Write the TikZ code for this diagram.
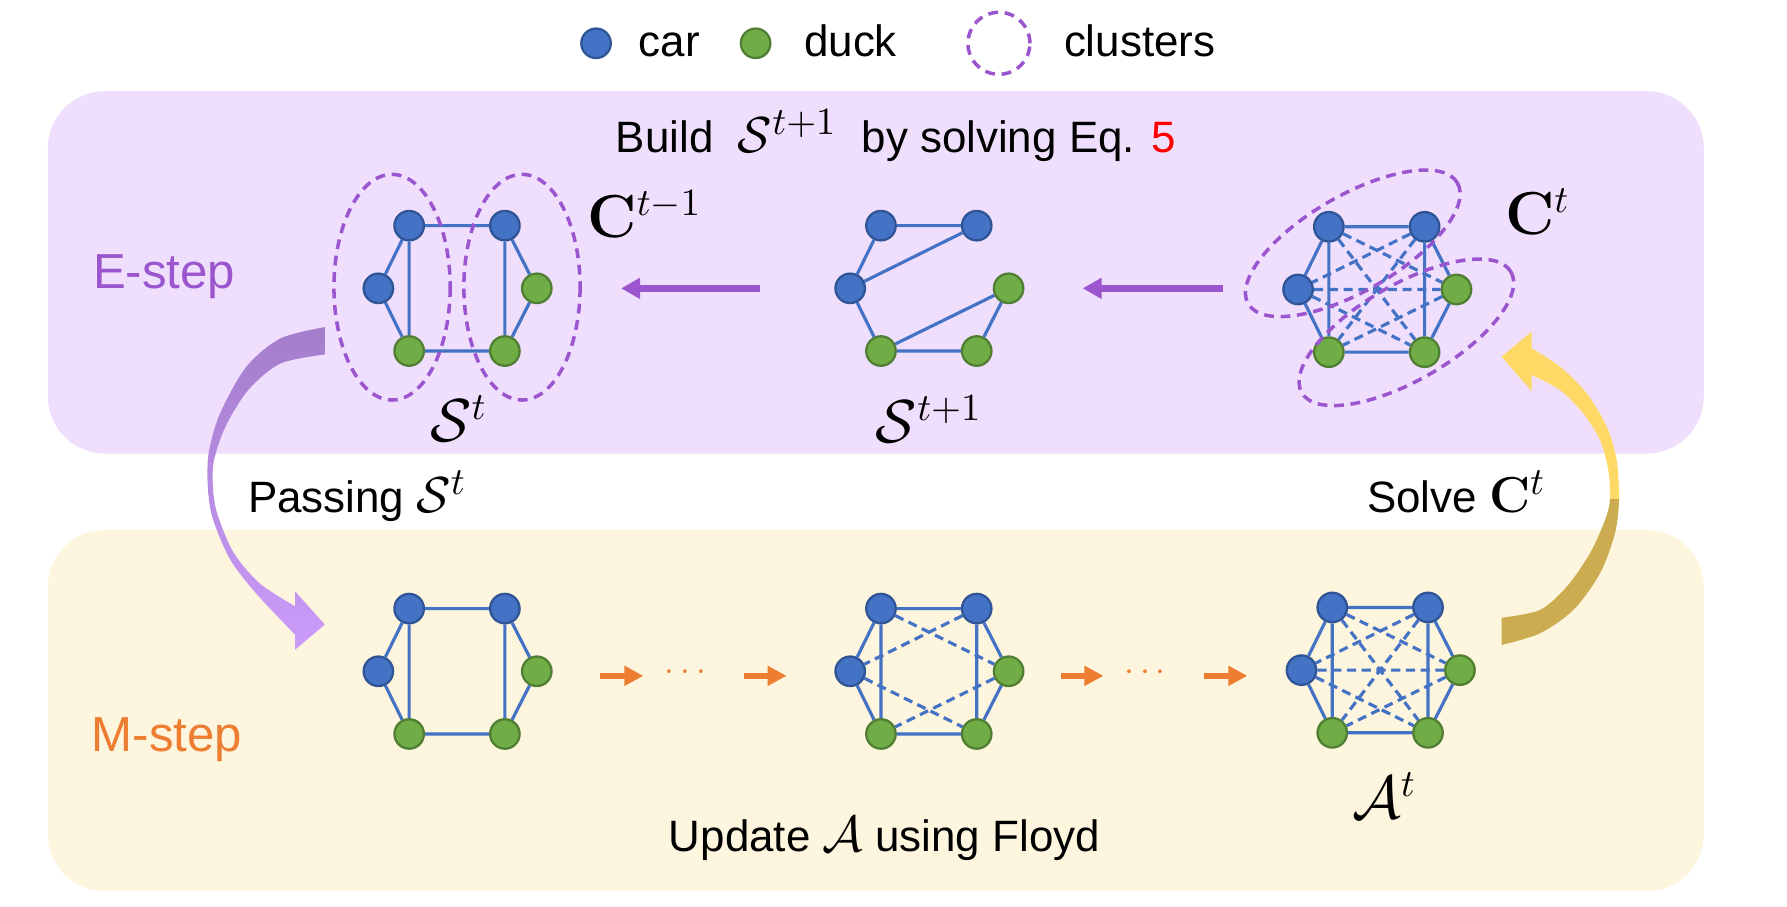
\documentclass[tikz,border=0pt]{standalone}
\usepackage[no-math]{fontspec}
\setmainfont{Liberation Sans}
\usepackage{amsmath}
\usetikzlibrary{arrows.meta}

\definecolor{carblue}{HTML}{4472C4}
\definecolor{carline}{HTML}{2F5597}
\definecolor{duckgreen}{HTML}{70AD47}
\definecolor{duckline}{HTML}{507E32}
\definecolor{epurple}{HTML}{9B55CE}
\definecolor{morange}{HTML}{ED7D31}
\definecolor{epanel}{HTML}{EFDFFD}
\definecolor{mpanel}{HTML}{FDF5DE}
\definecolor{passtop}{HTML}{A47DCB}
\definecolor{passbot}{HTML}{CB9BFA}
\definecolor{solvetop}{HTML}{FFD966}
\definecolor{solvebot}{HTML}{CCAC50}

% inline maths a little larger than the text
\newcommand{\inmath}[1]{{\fontsize{15.5}{18}\selectfont$#1$}}

\newcommand{\solvearrow}{plot[smooth] coordinates {(1317.6,565.9) (1351.2,555.7) (1380.5,535.2) (1403.9,503.1) (1417,468) (1420.6,438.7) (1418.5,403.6) (1409.8,374.4) (1392.2,345.1) (1368.8,321.7) (1343.9,305.6)} -- (1343.9,291) -- (1317.6,313) -- (1343.9,343.1) -- plot[smooth] coordinates {(1343.9,329) (1368.8,342.2) (1389.2,362.7) (1403.9,386.1) (1411.2,412.4) (1412.6,438.7) (1408.3,456.3) (1395.1,485.5) (1374.7,514.8) (1351.2,535.2) (1317.6,542)} -- cycle}

\begin{document}
\begin{tikzpicture}[x=0.114mm, y=-0.114mm,
  car/.style={circle, draw=carline, fill=carblue, line width=0.65pt, minimum size=2.95mm, inner sep=0pt},
  duck/.style={circle, draw=duckline, fill=duckgreen, line width=0.65pt, minimum size=2.95mm, inner sep=0pt},
  link/.style={draw=carblue, line width=0.9pt},
  dlink/.style={link, dash pattern=on 2.6pt off 1.6pt},
  clusterline/.style={draw=epurple, line width=1pt, dash pattern=on 2.8pt off 1.9pt},
  earrow/.style={-{Triangle[length=1.9mm, width=2mm]}, color=epurple, line width=1.9pt},
  marrow/.style={-{Triangle[length=1.9mm, width=1.9mm]}, color=morange, line width=1.7pt},
  txt/.style={inner sep=0pt, font=\fontsize{12.5}{15}\selectfont},
  mtxt/.style={inner sep=0pt, font=\fontsize{16}{19}\selectfont}]

  \useasboundingbox (0,0) rectangle (1568,795);

  % Panels
  \fill[epanel, rounded corners=5.7mm] (42,80) rectangle (1495,398);
  \fill[mpanel, rounded corners=5.7mm] (42,465) rectangle (1495,782);

  % Legend
  \node[car] (L1) at (523,38) {};
  \node[txt, anchor=base west] (L1t) at (560,50) {car};
  \node[duck] (L2) at (663,38) {};
  \node[txt, anchor=base west] (L2t) at (705,50) {duck};
  \node[clusterline, circle, minimum size=6.2mm, inner sep=0pt] (L3) at (876.5,38) {};
  \node[txt, anchor=base west] (L3t) at (933,50) {clusters};

  % Step labels
  \node[txt, font=\fontsize{14}{17}\selectfont, text=epurple, anchor=base west] (E) at (81,253) {E-step};
  \node[txt, font=\fontsize{14}{17}\selectfont, text=morange, anchor=base west] (M) at (80,659.5) {M-step};
  \node[txt, anchor=base] (build) at (786,134) {Build~~\inmath{\mathcal{S}^{t+1}}~~by solving Eq. \textcolor{red}{5}};
  \node[txt, anchor=base west] (pass) at (217,450) {Passing \inmath{\mathcal{S}^t}};
  \node[txt, anchor=base east] (solve) at (1357,450) {Solve \inmath{\mathbf{C}^t}};
  \node[txt, anchor=base] (floyd) at (776,747) {Update \inmath{\mathcal{A}} using Floyd};

  % Graph S^t
  \begin{scope}[shift={(401,253)}]
    \node[car] (S1) at (-42,-55) {};
    \node[car] (S2) at (42,-55) {};
    \node[car] (S3) at (-69,0) {};
    \node[duck] (S4) at (70,0) {};
    \node[duck] (S5) at (-42,55) {};
    \node[duck] (S6) at (42,55) {};
  \end{scope}

  % Graph S^{t+1}
  \begin{scope}[shift={(815,253)}]
    \node[car] (T1) at (-42,-55) {};
    \node[car] (T2) at (42,-55) {};
    \node[car] (T3) at (-69,0) {};
    \node[duck] (T4) at (70,0) {};
    \node[duck] (T5) at (-42,55) {};
    \node[duck] (T6) at (42,55) {};
  \end{scope}

  % Graph C^t
  \begin{scope}[shift={(1208,254)}]
    \node[car] (C1) at (-42,-55) {};
    \node[car] (C2) at (42,-55) {};
    \node[car] (C3) at (-69,0) {};
    \node[duck] (C4) at (70,0) {};
    \node[duck] (C5) at (-42,55) {};
    \node[duck] (C6) at (42,55) {};
  \end{scope}

  % M-step graphs
  \begin{scope}[shift={(401,589)}]
    \node[car] (P1) at (-42,-55) {};
    \node[car] (P2) at (42,-55) {};
    \node[car] (P3) at (-69,0) {};
    \node[duck] (P4) at (70,0) {};
    \node[duck] (P5) at (-42,55) {};
    \node[duck] (P6) at (42,55) {};
  \end{scope}
  \begin{scope}[shift={(815,589)}]
    \node[car] (Q1) at (-42,-55) {};
    \node[car] (Q2) at (42,-55) {};
    \node[car] (Q3) at (-69,0) {};
    \node[duck] (Q4) at (70,0) {};
    \node[duck] (Q5) at (-42,55) {};
    \node[duck] (Q6) at (42,55) {};
  \end{scope}
  \begin{scope}[shift={(1211,588)}]
    \node[car] (R1) at (-42,-55) {};
    \node[car] (R2) at (42,-55) {};
    \node[car] (R3) at (-69,0) {};
    \node[duck] (R4) at (70,0) {};
    \node[duck] (R5) at (-42,55) {};
    \node[duck] (R6) at (42,55) {};
  \end{scope}

  % Solid edges
  \draw[link] (S1) -- (S2) -- (S4) -- (S6) -- (S5) -- (S3) -- (S1) (S1) -- (S5) (S2) -- (S6);
  \draw[link] (T2) -- (T1) -- (T3) -- (T2) (T3) -- (T5) -- (T4) -- (T6) -- (T5);
  \draw[link] (C1) -- (C2) -- (C4) -- (C6) -- (C5) -- (C3) -- (C1) (C1) -- (C5) (C2) -- (C6);
  \draw[link] (P1) -- (P2) -- (P4) -- (P6) -- (P5) -- (P3) -- (P1) (P1) -- (P5) (P2) -- (P6);
  \draw[link] (Q1) -- (Q2) -- (Q4) -- (Q6) -- (Q5) -- (Q3) -- (Q1) (Q1) -- (Q5) (Q2) -- (Q6);
  \draw[link] (R1) -- (R2) -- (R4) -- (R6) -- (R5) -- (R3) -- (R1) (R1) -- (R5) (R2) -- (R6);

  % Dashed edges
  \draw[dlink] (C1) -- (C4) (C1) -- (C6) (C2) -- (C3) (C2) -- (C5) (C3) -- (C4) (C3) -- (C6) (C4) -- (C5);
  \draw[dlink] (Q1) -- (Q4) (Q2) -- (Q3) (Q3) -- (Q6) (Q4) -- (Q5);
  \draw[dlink] (R1) -- (R4) (R1) -- (R6) (R2) -- (R3) (R2) -- (R5) (R3) -- (R4) (R3) -- (R6) (R4) -- (R5);

  % Clusters
  \draw[clusterline] (344,252) ellipse [x radius=51, y radius=99];
  \draw[clusterline] (458,252) ellipse [x radius=51, y radius=99];
  \draw[clusterline, rotate around={30:(1187,213.5)}] (1187,213.5) ellipse [x radius=106, y radius=42];
  \draw[clusterline, rotate around={30:(1234,291.6)}] (1234,291.6) ellipse [x radius=106, y radius=42];

  % Graph labels
  \node[mtxt, anchor=base west] (Cprev) at (515,208) {$\mathbf{C}^{t-1}$};
  \node[mtxt, anchor=base west] (St) at (377,387) {$\mathcal{S}^{t}$};
  \node[mtxt, anchor=base west] (Snext) at (768,388) {$\mathcal{S}^{t+1}$};
  \node[mtxt, anchor=base west] (Ct) at (1320,206) {$\mathbf{C}^{t}$};
  \node[mtxt, anchor=base west] (At) at (1186,718) {$\mathcal{A}^{t}$};

  % E-step arrows
  \coordinate (e1) at (667,253);
  \coordinate (e2) at (545,253);
  \coordinate (e3) at (1073,253);
  \coordinate (e4) at (950,253);
  \draw[earrow] (e1) -- (e2);
  \draw[earrow] (e3) -- (e4);

  % M-step arrows
  \coordinate (m1) at (526.5,593);
  \coordinate (m2) at (564.5,593);
  \coordinate (m3) at (652.8,593);
  \coordinate (m4) at (690.2,593);
  \coordinate (m5) at (931.3,593);
  \coordinate (m6) at (968.2,593);
  \coordinate (m7) at (1056.6,593);
  \coordinate (m8) at (1094.5,593);
  \draw[marrow] (m1) -- (m2);
  \draw[marrow] (m3) -- (m4);
  \draw[marrow] (m5) -- (m6);
  \draw[marrow] (m7) -- (m8);
  \node[text=morange, font=\fontsize{10}{12}\selectfont, inner sep=0pt] (dots1) at (604,590) {$\cdots$};
  \node[text=morange, font=\fontsize{10}{12}\selectfont, inner sep=0pt] (dots2) at (1007.5,590) {$\cdots$};

  % Passing arrow
  \shade[top color=passtop, bottom color=passbot]
    plot[smooth] coordinates {(285,287) (246,297) (216,322) (193,363) (183,398) (182.5,430) (187,456) (202,491) (225,521) (259,557)}
    -- (259,570) -- (285,548) -- (259,519) -- (259,532)
    -- plot[smooth] coordinates {(259,532) (228,512) (205,485) (191,452) (187,430) (187.5,405) (198,374) (218,342) (246,319) (285,311)}
    -- cycle;

  % Solve arrow
  \begin{scope}
    \clip (1300,280) rectangle (1450,438.7);
    \fill[solvetop] \solvearrow;
  \end{scope}
  \begin{scope}
    \clip (1300,438.7) rectangle (1450,600);
    \fill[solvebot] \solvearrow;
  \end{scope}

\end{tikzpicture}
\end{document}
